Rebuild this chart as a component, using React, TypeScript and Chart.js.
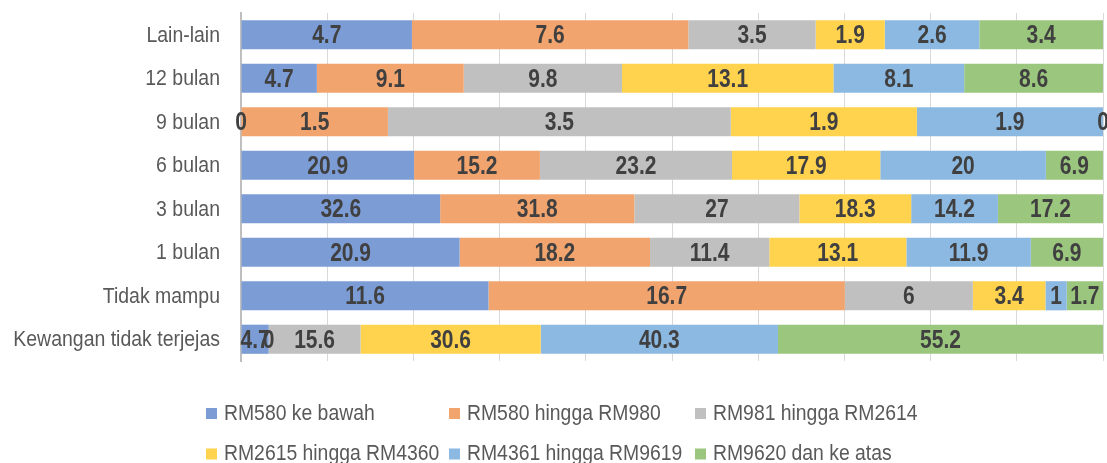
import React, { useEffect, useRef } from "react";
import { Chart, registerables } from "chart.js";

Chart.register(...registerables);

const CATEGORIES = [
  "Lain-lain",
  "12 bulan",
  "9 bulan",
  "6 bulan",
  "3 bulan",
  "1 bulan",
  "Tidak mampu",
  "Kewangan tidak terjejas",
];

const SERIES_NAMES = [
  "RM580 ke bawah",
  "RM580 hingga RM980",
  "RM981 hingga RM2614",
  "RM2615 hingga RM4360",
  "RM4361 hingga RM9619",
  "RM9620 dan ke atas",
];

const RM580_KE_BAWAH = [4.7, 4.7, 0, 20.9, 32.6, 20.9, 11.6, 4.7];
const RM580_HINGGA_RM980 = [7.6, 9.1, 1.5, 15.2, 31.8, 18.2, 16.7, 0];
const RM981_HINGGA_RM2614 = [3.5, 9.8, 3.5, 23.2, 27, 11.4, 6, 15.6];
const RM2615_HINGGA_RM4360 = [1.9, 13.1, 1.9, 17.9, 18.3, 13.1, 3.4, 30.6];
const RM4361_HINGGA_RM9619 = [2.6, 8.1, 1.9, 20, 14.2, 11.9, 1, 40.3];
const RM9620_DAN_KE_ATAS = [3.4, 8.6, 0, 6.9, 17.2, 6.9, 1.7, 55.2];

const COLORS = ["#7C9CD6", "#F2A46F", "#C0C0C0", "#FFD34D", "#8CB9E2", "#9BC67E"];

const FAMILY = "'Liberation Sans', Arial, sans-serif";

function drawText(
  ctx: CanvasRenderingContext2D,
  text: string,
  x: number,
  y: number,
  font: string,
  sx: number,
  align: CanvasTextAlign,
  color: string
) {
  ctx.save();
  ctx.translate(x, y);
  ctx.scale(sx, 1);
  ctx.font = font;
  ctx.fillStyle = color;
  ctx.textAlign = align;
  ctx.textBaseline = "middle";
  ctx.fillText(text, 0, 0);
  ctx.restore();
}

export default function App() {
  const ref = useRef<HTMLCanvasElement | null>(null);

  useEffect(() => {
    document.body.style.margin = "0";
    const raw = [
      RM580_KE_BAWAH,
      RM580_HINGGA_RM980,
      RM981_HINGGA_RM2614,
      RM2615_HINGGA_RM4360,
      RM4361_HINGGA_RM9619,
      RM9620_DAN_KE_ATAS,
    ];
    const totals = CATEGORIES.map((_, i) => raw.reduce((s, arr) => s + arr[i], 0));
    const datasets = raw.map((arr, k) => ({
      label: SERIES_NAMES[k],
      data: arr.map((v, i) => (totals[i] ? (v / totals[i]) * 100 : 0)),
      backgroundColor: COLORS[k],
      borderWidth: 0,
      categoryPercentage: 1,
      barPercentage: 0.67,
    }));

    const labelPlugin = {
      id: "valueLabels",
      afterDatasetsDraw(chart: any) {
        const ctx = chart.ctx;
        chart.data.datasets.forEach((_: any, k: number) => {
          const meta = chart.getDatasetMeta(k);
          meta.data.forEach((el: any, i: number) => {
            const x = (el.x + el.base) / 2;
            drawText(ctx, String(raw[k][i]), x, el.y + 1.5, "bold 25px " + FAMILY, 0.84, "center", "#404040");
          });
        });
        const yScale = chart.scales.y;
        CATEGORIES.forEach((c, i) => {
          const y = yScale.getPixelForValue(i);
          drawText(ctx, c, 220, y + 1, "22px " + FAMILY, 0.885, "right", "#595959");
        });
      },
    };

    const legendPlugin = {
      id: "gridLegend",
      afterDraw(chart: any) {
        const ctx = chart.ctx;
        const cols = [206, 449, 695];
        const rows = [413.5, 454];
        SERIES_NAMES.forEach((name, k) => {
          const x = cols[k % 3];
          const y = rows[Math.floor(k / 3)];
          ctx.save();
          ctx.fillStyle = COLORS[k];
          ctx.fillRect(x, y - 5.5, 11, 11);
          ctx.restore();
          drawText(ctx, name, x + 18, y, "22px " + FAMILY, 0.88, "left", "#595959");
        });
      },
    };

    const chart = new Chart(ref.current as HTMLCanvasElement, {
      type: "bar",
      data: { labels: CATEGORIES, datasets },
      options: {
        indexAxis: "y",
        responsive: true,
        maintainAspectRatio: false,
        animation: false,
        layout: { padding: { top: 13, bottom: 102, right: 4, left: 0 } },
        scales: {
          x: {
            stacked: true,
            min: 0,
            max: 100,
            ticks: { display: false, stepSize: 10 },
            grid: { color: "#D9D9D9", lineWidth: 1, drawTicks: false },
            border: { display: false },
            afterFit: (s: any) => {
              s.height = 0;
              s.paddingLeft = 0;
              s.paddingRight = 0;
            },
          },
          y: {
            stacked: true,
            grid: { display: false, drawTicks: false },
            border: { display: true, color: "#BFBFBF", width: 2 },
            ticks: { display: false },
            afterFit: (s: any) => {
              s.width = 241;
              s.paddingTop = 0;
              s.paddingBottom = 0;
            },
          },
        },
        plugins: {
          legend: { display: false },
          tooltip: { enabled: false },
        },
      } as any,
      plugins: [labelPlugin, legendPlugin],
    });
    return () => chart.destroy();
  }, []);

  return (
    <div style={{ position: "fixed", left: 0, top: 0, width: "1107px", height: "463px" }}>
      <canvas ref={ref} />
    </div>
  );
}
